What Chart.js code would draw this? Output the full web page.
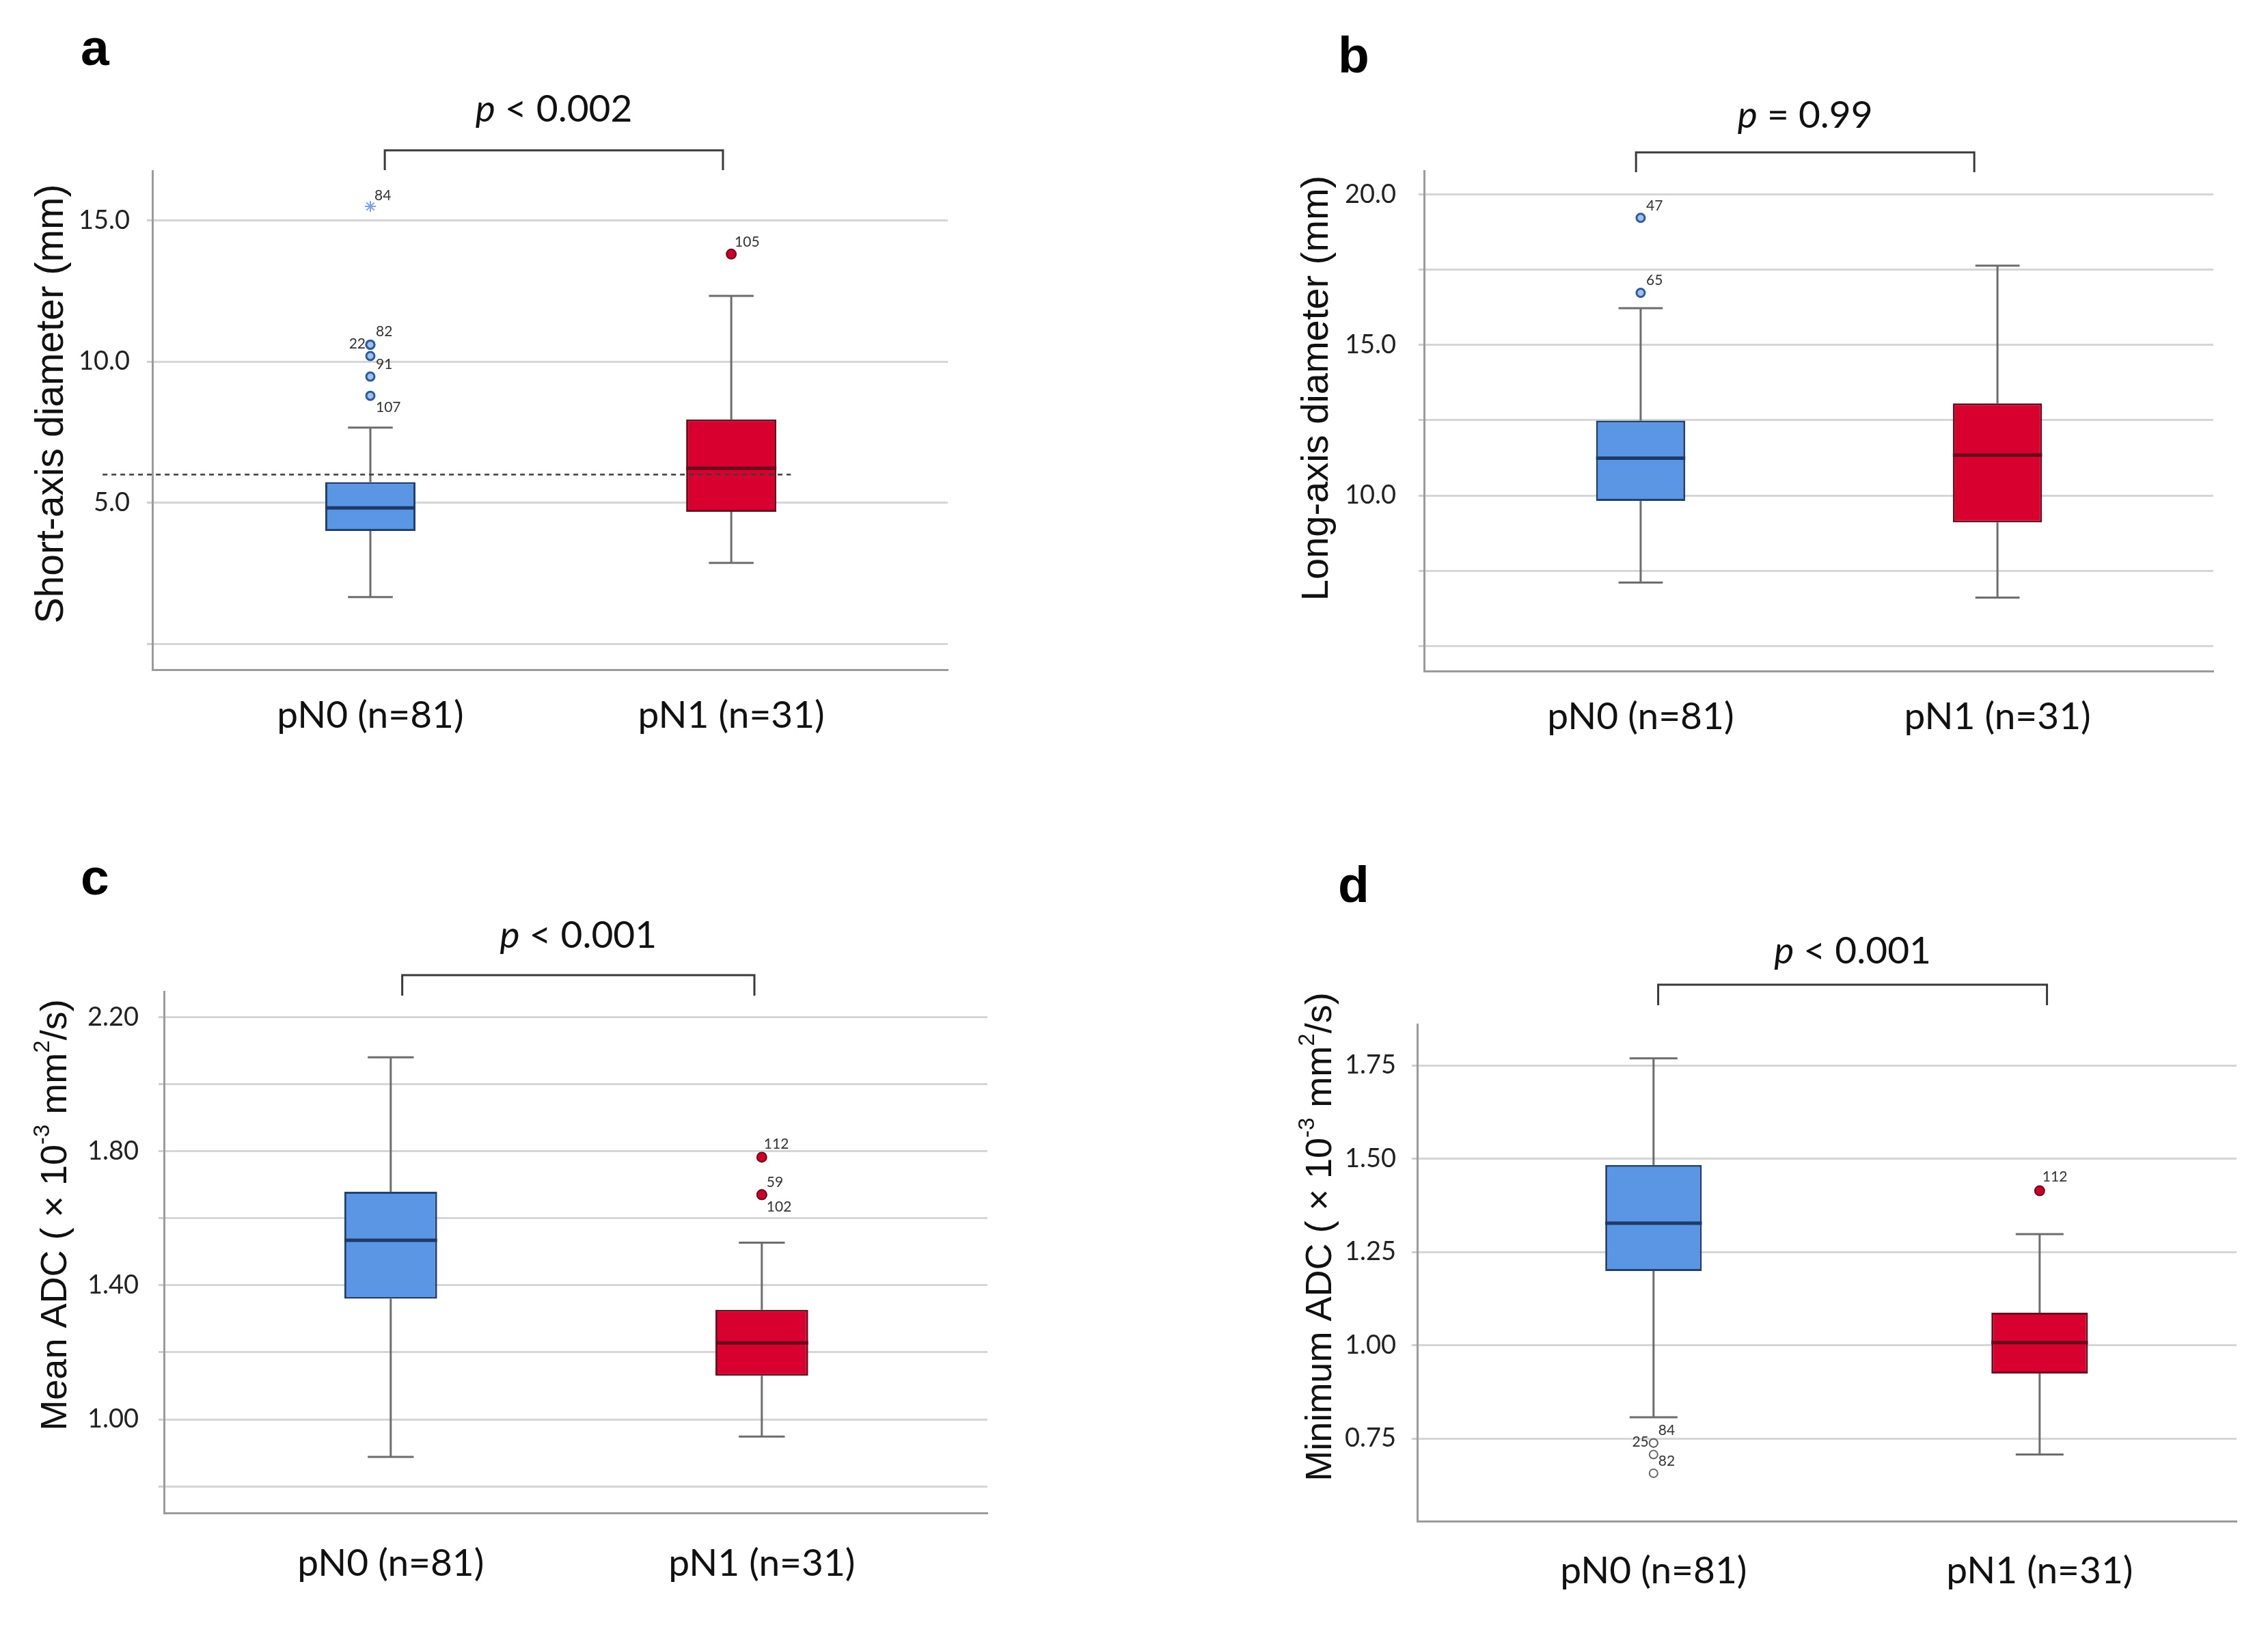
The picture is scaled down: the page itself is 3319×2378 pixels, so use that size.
<!DOCTYPE html>
<html><head><meta charset="utf-8">
<script src="https://cdn.jsdelivr.net/npm/chart.js@4.4.1/dist/chart.umd.min.js"></script>
<style>
html,body{margin:0;padding:0;background:#fff;}
body{width:3319px;height:2378px;position:relative;overflow:hidden;}
canvas{position:absolute;left:0;top:0;}
</style></head><body>
<canvas id="ca" width="3319" height="2378"></canvas>
<canvas id="cb" width="3319" height="2378"></canvas>
<canvas id="cc" width="3319" height="2378"></canvas>
<canvas id="cd" width="3319" height="2378"></canvas>
<script>
// ---------------- DATA ----------------
const categories = ['pN0 (n=81)', 'pN1 (n=31)'];

// Panel a: short-axis diameter (mm)
const aWhiskerLow  = [1.66, 2.87];
const aQ1          = [4.00, 4.68];
const aMedian      = [4.82, 6.22];
const aQ3          = [5.73, 7.95];
const aWhiskerHigh = [7.66, 12.33];
const aOutlierGroup  = [0, 0, 0, 0, 0, 0, 1];
const aOutlierValues = [15.5, 10.60, 10.60, 10.20, 9.47, 8.79, 13.81];
const aOutlierLabels = ['84', '82', '22', '91', '', '107', '105'];
const aCutoff = 6.0;
const aTicks = [0, 5, 10, 15];
const aTickLabels = ['', '5.0', '10.0', '15.0'];

// Panel b: long-axis diameter (mm)
const bWhiskerLow  = [7.11, 6.61];
const bQ1          = [9.82, 9.11];
const bMedian      = [11.24, 11.34];
const bQ3          = [12.49, 13.06];
const bWhiskerHigh = [16.22, 17.63];
const bOutlierGroup  = [0, 0];
const bOutlierValues = [19.22, 16.73];
const bOutlierLabels = ['47', '65'];
const bTicks = [5, 7.5, 10, 12.5, 15, 17.5, 20];
const bTickLabels = ['', '', '10.0', '', '15.0', '', '20.0'];

// Panel c: mean ADC
const cWhiskerLow  = [0.888, 0.949];
const cQ1          = [1.360, 1.130];
const cMedian      = [1.534, 1.228];
const cQ3          = [1.679, 1.327];
const cWhiskerHigh = [2.080, 1.527];
const cOutlierGroup  = [1, 1, 1];
const cOutlierValues = [1.782, 1.670, 1.670];
const cOutlierLabels = ['112', '59', '102'];
const cTicks = [0.8, 1.0, 1.2, 1.4, 1.6, 1.8, 2.0, 2.2];
const cTickLabels = ['', '1.00', '', '1.40', '', '1.80', '', '2.20'];

// Panel d: minimum ADC
const dWhiskerLow  = [0.807, 0.707];
const dQ1          = [1.199, 0.924];
const dMedian      = [1.327, 1.007];
const dQ3          = [1.483, 1.087];
const dWhiskerHigh = [1.769, 1.298];
const dOutlierGroup  = [0, 0, 0, 0, 1];
const dOutlierValues = [0.738, 0.738, 0.707, 0.657, 1.414];
const dOutlierLabels = ['84', '25', '82', '', '112'];
const dTicks = [0.75, 1.0, 1.25, 1.5, 1.75];
const dTickLabels = ['0.75', '1.00', '1.25', '1.50', '1.75'];

// ---------------- STYLE ----------------
const BOX_FILL = ['#5a96e3', '#d7002f'];
const BOX_EDGE = ['#23416f', '#6e0d1f'];
const MEDIAN_COLOR = ['#1e3a6b', '#6a0a1a'];
const WHISKER = '#6d6d6d';
const CAP_HALF = 0.062;
const BOX_HALF = 0.125;
const MARKS = {
  ring:   {style: 'circle', r: 6, fill: '#a3c0ea', edge: '#2d5a9b', w: 3},
  star:   {style: 'star',   r: 8, fill: '#7aa3e6', edge: '#7aa3e6', w: 2},
  red:    {style: 'circle', r: 7, fill: '#c9002c', edge: '#6e0d1f', w: 2},
  hollow: {style: 'circle', r: 6, fill: '#ffffff', edge: '#666666', w: 2}
};

function drawParts(ctx, parts, x, y, size, family, align) {
  let total = 0;
  const fontOf = p => (p.italic ? 'italic ' : '') + (p.sup ? Math.round(size * 0.62) : size) + 'px ' + family;
  parts.forEach(p => { ctx.font = fontOf(p); p._w = ctx.measureText(p.t).width; total += p._w; });
  let pos = align === 'center' ? x - total / 2 : x;
  parts.forEach(p => {
    ctx.font = fontOf(p);
    ctx.fillText(p.t, pos, p.sup ? y - size * 0.36 : y);
    pos += p._w;
  });
}

function annotPlugin(cfg) {
  return {
    id: 'annot',
    afterDatasetsDraw(chart) {
      const ctx = chart.ctx;
      ctx.save();
      ctx.font = '21px Lato';
      ctx.fillStyle = '#333';
      ctx.textBaseline = 'middle';
      chart.data.datasets.forEach((ds, di) => {
        if (!ds.outlierLabels) return;
        chart.getDatasetMeta(di).data.forEach((el, j) => {
          const t = ds.outlierLabels[j];
          if (!t) return;
          const off = ds.outlierOffsets[j];
          ctx.textAlign = off[0] < 0 ? 'right' : 'left';
          ctx.fillText(t, el.x + off[0], el.y + off[1]);
        });
      });
      ctx.restore();
    },
    afterDraw(chart) {
      const ctx = chart.ctx, xs = chart.scales.x;
      ctx.save();
      ctx.fillStyle = '#000';
      ctx.textAlign = 'left';
      ctx.textBaseline = 'alphabetic';
      ctx.font = 'bold 75px "Liberation Sans"';
      ctx.fillText(cfg.letter, cfg.letterX, cfg.letterY);
      // bracket
      const x0 = xs.getPixelForValue(cfg.bracket[0]), x1 = xs.getPixelForValue(cfg.bracket[1]);
      ctx.strokeStyle = '#3a3a3a';
      ctx.lineWidth = 3;
      ctx.beginPath();
      ctx.moveTo(x0, cfg.bracketBottom); ctx.lineTo(x0, cfg.bracketTop);
      ctx.lineTo(x1, cfg.bracketTop); ctx.lineTo(x1, cfg.bracketBottom);
      ctx.stroke();
      // p value
      ctx.fillStyle = '#111';
      drawParts(ctx, cfg.pParts, (x0 + x1) / 2, cfg.pY, 55, 'Lato', 'center');
      // y title
      ctx.save();
      ctx.translate(cfg.titleX, cfg.titleY);
      ctx.rotate(-Math.PI / 2);
      ctx.textBaseline = 'middle';
      drawParts(ctx, cfg.titleParts, 0, 0, cfg.titleSize, '"Liberation Sans"', 'center');
      ctx.restore();
      ctx.restore();
    }
  };
}

function makeChart(id, d, lay, cfg) {
  const datasets = [];
  datasets.push({
    type: 'bar', order: 2,
    data: [0, 1].map(i => ({x: i, y: [d.q1[i], d.q3[i]]})),
    backgroundColor: BOX_FILL, borderColor: BOX_EDGE, borderWidth: 3, borderSkipped: false,
    barPercentage: 0.25, categoryPercentage: 1
  });
  const seg = (pts, color, width, order) => datasets.push({
    type: 'line', order, data: pts, borderColor: color, borderWidth: width,
    pointRadius: 0, fill: false, tension: 0, borderCapStyle: 'butt'
  });
  [0, 1].forEach(i => {
    seg([{x: i, y: d.lo[i]}, {x: i, y: d.q1[i]}], WHISKER, 3, 3);
    seg([{x: i, y: d.q3[i]}, {x: i, y: d.hi[i]}], WHISKER, 3, 3);
    seg([{x: i - CAP_HALF, y: d.lo[i]}, {x: i + CAP_HALF, y: d.lo[i]}], WHISKER, 3, 3);
    seg([{x: i - CAP_HALF, y: d.hi[i]}, {x: i + CAP_HALF, y: d.hi[i]}], WHISKER, 3, 3);
    seg([{x: i - BOX_HALF, y: d.med[i]}, {x: i + BOX_HALF, y: d.med[i]}], MEDIAN_COLOR[i], 5, 1);
  });
  if (d.cutoff !== undefined) {
    datasets.push({
      type: 'line', order: 0, clip: false,
      data: [{x: lay.cutX[0], y: d.cutoff}, {x: lay.cutX[1], y: d.cutoff}],
      borderColor: '#3c3c3c', borderWidth: 2.5, borderDash: [7, 6], pointRadius: 0, fill: false
    });
  }
  const marks = lay.marks.map(m => MARKS[m]);
  datasets.push({
    type: 'line', order: 0, showLine: false, clip: false,
    data: d.outVals.map((v, k) => ({x: d.outGroup[k], y: v})),
    pointStyle: marks.map(m => m.style),
    pointRadius: marks.map(m => m.r),
    pointBackgroundColor: marks.map(m => m.fill),
    pointBorderColor: marks.map(m => m.edge),
    pointBorderWidth: marks.map(m => m.w),
    outlierLabels: d.outLabels,
    outlierOffsets: lay.offsets
  });

  return new Chart(document.getElementById(id), {
    type: 'bar',
    data: {datasets},
    options: {
      responsive: false, animation: false, devicePixelRatio: 1, events: [],
      layout: {padding: lay.padding},
      plugins: {legend: {display: false}, tooltip: {enabled: false}},
      scales: {
        x: {
          type: 'linear', min: lay.xMin, max: lay.xMax, offset: false,
          afterBuildTicks: s => { s.ticks = [{value: 0}, {value: 1}]; },
          afterFit: s => { s.height = 150; },
          ticks: {autoSkip: false, maxRotation: 0, padding: lay.xPad, color: '#111',
                  font: {family: 'Lato', size: 55}, callback: (v, i) => categories[i]},
          grid: {display: false, drawTicks: false},
          border: {display: true, color: '#9b9b9b', width: 3}
        },
        y: {
          type: 'linear', min: lay.yMin, max: lay.yMax,
          afterBuildTicks: s => { s.ticks = d.ticks.map(v => ({value: v})); },
          afterFit: s => { s.width = 200; },
          ticks: {autoSkip: false, padding: lay.yPad, color: '#222',
                  font: {family: 'Lato', size: 38}, callback: (v, i) => d.tickLabels[i]},
          grid: {color: '#d6d6d6', lineWidth: 3, tickLength: 8, tickColor: '#cfcfcf'},
          border: {display: true, color: '#9b9b9b', width: 3}
        }
      }
    },
    plugins: [annotPlugin(cfg)]
  });
}

const W = 3319, H = 2378;

makeChart('ca',
  {lo: aWhiskerLow, q1: aQ1, med: aMedian, q3: aQ3, hi: aWhiskerHigh, outGroup: aOutlierGroup,
   outVals: aOutlierValues, outLabels: aOutlierLabels, ticks: aTicks, tickLabels: aTickLabels, cutoff: aCutoff},
  {xMin: -0.604, xMax: 1.600, yMin: -0.915, yMax: 16.76, yPad: 25, xPad: 34,
   padding: {left: 223 - 200, right: W - 1387, top: 250, bottom: H - 980 - 150},
   cutX: [-0.742, 1.165],
   marks: ['star', 'ring', 'ring', 'ring', 'ring', 'ring', 'red'],
   offsets: [[6, -16], [8, -19], [-7, -1], [8, 12], [0, 0], [8, 17], [5, -18]]},
  {letter: 'a', letterX: 118, letterY: 95, bracket: [0.04, 0.977], bracketTop: 220, bracketBottom: 249,
   pParts: [{t: 'p', italic: true}, {t: ' < 0.002'}], pY: 178,
   titleX: 76, titleY: 591, titleSize: 57, titleParts: [{t: 'Short-axis diameter (mm)'}]});

makeChart('cb',
  {lo: bWhiskerLow, q1: bQ1, med: bMedian, q3: bQ3, hi: bWhiskerHigh, outGroup: bOutlierGroup,
   outVals: bOutlierValues, outLabels: bOutlierLabels, ticks: bTicks, tickLabels: bTickLabels},
  {xMin: -0.607, xMax: 1.605, yMin: 4.174, yMax: 20.78, yPad: 33, xPad: 34,
   padding: {left: 2084 - 200, right: W - 3239, top: 250, bottom: H - 982 - 150},
   marks: ['ring', 'ring'],
   offsets: [[8, -18], [8, -18]]},
  {letter: 'b', letterX: 1958, letterY: 106, bracket: [-0.013, 0.935], bracketTop: 223, bracketBottom: 252,
   pParts: [{t: 'p', italic: true}, {t: ' = 0.99'}], pY: 187,
   titleX: 1928, titleY: 568, titleSize: 56, titleParts: [{t: 'Long-axis diameter (mm)'}]});

makeChart('cc',
  {lo: cWhiskerLow, q1: cQ1, med: cMedian, q3: cQ3, hi: cWhiskerHigh, outGroup: cOutlierGroup,
   outVals: cOutlierValues, outLabels: cOutlierLabels, ticks: cTicks, tickLabels: cTickLabels},
  {xMin: -0.611, xMax: 1.608, yMin: 0.721, yMax: 2.276, yPad: 29, xPad: 41,
   padding: {left: 240 - 200, right: W - 1445, top: 1451, bottom: H - 2214 - 150},
   marks: ['red', 'red', 'red'],
   offsets: [[3, -19], [7, -18], [7, 18]]},
  {letter: 'c', letterX: 118, letterY: 1309, bracket: [0.031, 0.980], bracketTop: 1427, bracketBottom: 1457,
   pParts: [{t: 'p', italic: true}, {t: ' < 0.001'}], pY: 1387,
   titleX: 82, titleY: 1778, titleSize: 54,
   titleParts: [{t: 'Mean ADC ( \u00d7 10'}, {t: '-3', sup: true}, {t: ' mm'}, {t: '2', sup: true}, {t: '/s)'}]});

makeChart('cd',
  {lo: dWhiskerLow, q1: dQ1, med: dMedian, q3: dQ3, hi: dWhiskerHigh, outGroup: dOutlierGroup,
   outVals: dOutlierValues, outLabels: dOutlierLabels, ticks: dTicks, tickLabels: dTickLabels},
  {xMin: -0.612, xMax: 1.510, yMin: 0.5286, yMax: 1.860, yPad: 23, xPad: 40,
   padding: {left: 2074 - 200, right: W - 3273, top: 1499, bottom: H - 2226 - 150},
   marks: ['hollow', 'hollow', 'hollow', 'hollow', 'red'],
   offsets: [[7, -18], [-7, -1], [7, 10], [0, 0], [4, -20]]},
  {letter: 'd', letterX: 1958, letterY: 1320, bracket: [0.012, 1.019], bracketTop: 1441, bracketBottom: 1471,
   pParts: [{t: 'p', italic: true}, {t: ' < 0.001'}], pY: 1410,
   titleX: 1933, titleY: 1810, titleSize: 54,
   titleParts: [{t: 'Minimum ADC ( \u00d7 10'}, {t: '-3', sup: true}, {t: ' mm'}, {t: '2', sup: true}, {t: '/s)'}]});
</script>
</body></html>
